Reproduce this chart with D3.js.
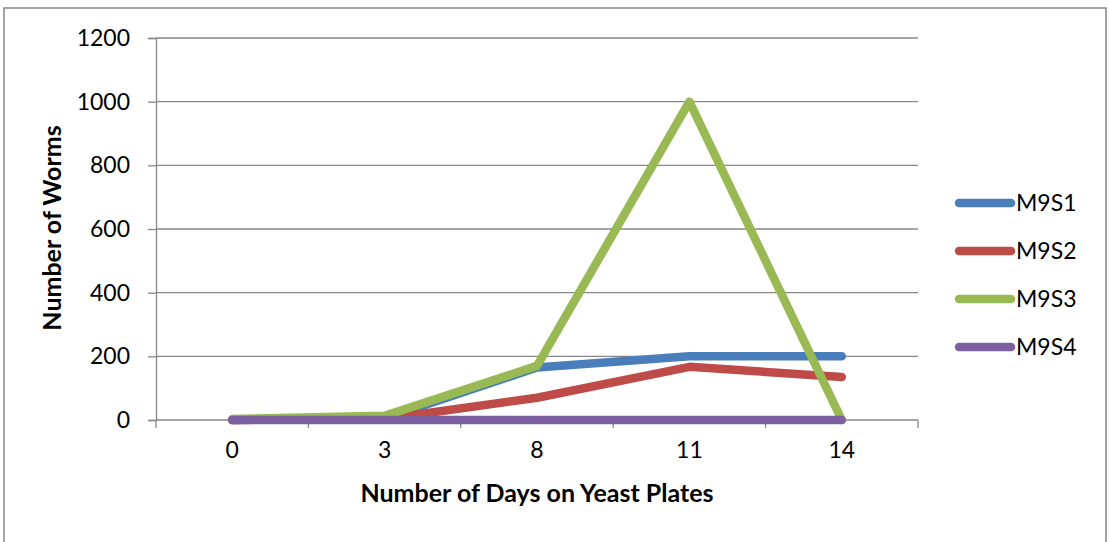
<html>
<script src='https://cdn.jsdelivr.net/npm/d3@7'></script>
<style>
body { margin: 0; background: white; }
text { font-family: Lato, 'Open Sans', sans-serif; fill: black; }
</style>
<body onload='init()'>
<svg width=1110 height=542></svg>
<script>
var days = ["0", "3", "8", "11", "14"]
var seriesNames = ["M9S1", "M9S2", "M9S3", "M9S4"]
var m9s1 = [0, 5, 165, 200, 200]
var m9s2 = [0, 3, 70, 167, 135]
var m9s3 = [3, 13, 170, 1000, 0]
var m9s4 = [0, 0, 0, 0, 0]
var yTicks = [0, 200, 400, 600, 800, 1000, 1200]
var colors = ["#4a7ebb", "#be4b48", "#98b954", "#7d60a0"]

function init() {
  var svg = d3.select("svg")
  var series = [m9s1, m9s2, m9s3, m9s4]

  // outer chart border
  svg.append("rect").attr("x", 4).attr("y", 8).attr("width", 1102).attr("height", 560)
    .attr("fill", "none").attr("stroke", "#878787").attr("stroke-width", 1.5)

  var x = d3.scaleBand().domain(days).range([156, 918])
  var y = d3.scaleLinear().domain([0, 1200]).range([420, 38])

  // gridlines
  svg.append("g").selectAll("line").data(yTicks).enter().append("line")
    .attr("x1", 156).attr("x2", 918)
    .attr("y1", d => y(d)).attr("y2", d => y(d))
    .attr("stroke", "#878787").attr("stroke-width", 1.3)

  // y axis
  var ya = svg.append("g").attr("transform", "translate(156,0)")
    .call(d3.axisLeft(y).tickValues(yTicks).tickFormat(d3.format("d")).tickSize(8).tickPadding(18))
  ya.select(".domain").attr("stroke", "#878787").attr("stroke-width", 1.3)
  ya.selectAll(".tick line").attr("stroke", "#878787").attr("stroke-width", 1.3)
  ya.selectAll("text").style("font-size", "23px").style("font-family", "Lato")

  // x axis, ticks between categories
  var xa = svg.append("g").attr("transform", "translate(0,420)")
    .call(d3.axisBottom(x).tickSize(0).tickPadding(22))
  xa.select(".domain").remove()
  xa.selectAll("text").style("font-size", "23px").style("font-family", "Lato")
  var bounds = days.map(d => x(d)).concat([918])
  svg.append("g").selectAll("line").data(bounds).enter().append("line")
    .attr("x1", d => d).attr("x2", d => d).attr("y1", 420).attr("y2", 428)
    .attr("stroke", "#878787").attr("stroke-width", 1.3)

  // lines
  var line = d3.line().x((d, i) => x(days[i]) + x.bandwidth() / 2).y(d => y(d))
  svg.append("g").selectAll("path").data(series).enter().append("path")
    .attr("d", d => line(d))
    .attr("fill", "none")
    .attr("stroke", (d, i) => colors[i])
    .attr("stroke-width", 8.5)
    .attr("stroke-linecap", "round")
    .attr("stroke-linejoin", "round")

  // axis titles
  svg.append("text").attr("x", 537).attr("y", 502).attr("text-anchor", "middle")
    .style("font-size", "25px").style("font-weight", "bold")
    .text("Number of Days on Yeast Plates")
  svg.append("text").attr("transform", "translate(61,228) rotate(-90)").attr("text-anchor", "middle")
    .style("font-size", "25px").style("font-weight", "bold")
    .text("Number of Worms")

  // legend
  var lg = svg.append("g").selectAll("g").data(seriesNames).enter().append("g")
    .attr("transform", (d, i) => "translate(0," + (203 + i * 48) + ")")
  lg.append("line").attr("x1", 959).attr("x2", 1011)
    .attr("stroke", (d, i) => colors[i]).attr("stroke-width", 8.5).attr("stroke-linecap", "round")
  lg.append("text").attr("x", 1016).attr("y", 8).style("font-size", "23px").text(d => d)
}
</script>
</body>
</html>
